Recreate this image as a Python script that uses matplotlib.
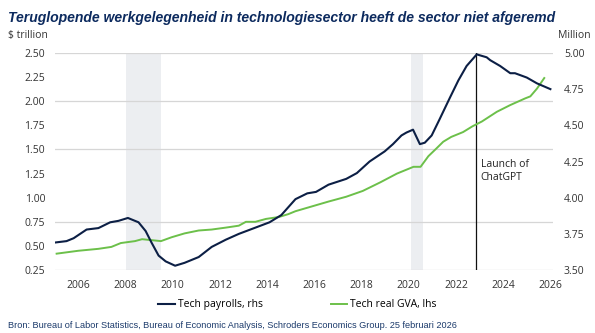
import matplotlib
matplotlib.use("Agg")
import matplotlib.pyplot as plt

# Tech payrolls (million, right axis)
pay_years = [2005.0, 2005.5, 2005.8, 2006.35, 2006.85, 2007.35, 2007.7, 2008.1, 2008.55,
             2008.85, 2009.1, 2009.4, 2009.7, 2010.1, 2010.5, 2011.1, 2011.65, 2012.25,
             2012.8, 2013.45, 2014.1, 2014.6, 2015.2, 2015.7, 2016.07, 2016.6, 2017.35,
             2017.8, 2018.34, 2018.98, 2019.33, 2019.69, 2019.9, 2020.18, 2020.47, 2020.68,
             2020.97, 2021.3, 2021.74, 2022.1, 2022.45, 2022.88, 2023.3, 2023.45, 2023.87,
             2024.3, 2024.5, 2025.0, 2025.43, 2026.0]
payrolls = [3.69, 3.70, 3.72, 3.78, 3.79, 3.83, 3.84, 3.86, 3.83,
            3.77, 3.69, 3.60, 3.56, 3.53, 3.55, 3.59, 3.66, 3.71,
            3.75, 3.79, 3.83, 3.88, 3.99, 4.03, 4.04, 4.09, 4.13,
            4.17, 4.25, 4.32, 4.37, 4.43, 4.45, 4.47, 4.37, 4.38,
            4.43, 4.54, 4.69, 4.81, 4.91, 4.99, 4.97, 4.95, 4.91,
            4.86, 4.86, 4.83, 4.79, 4.75]

# Tech real GVA ($ trillion, left axis)
gva_years = [2005.08, 2006.0, 2006.85, 2007.4, 2007.8, 2008.4, 2008.7, 2009.1, 2009.5,
             2009.95, 2010.5, 2011.1, 2011.65, 2012.25, 2012.8, 2013.1, 2013.5, 2013.95,
             2014.5, 2014.9, 2015.2, 2015.9, 2016.6, 2017.35, 2018.05, 2018.8, 2019.5,
             2020.2, 2020.5, 2020.83, 2021.17, 2021.46, 2021.8, 2022.3, 2022.7, 2023.1,
             2023.73, 2024.3, 2024.94, 2025.15, 2025.43, 2025.74]
gva = [0.42, 0.45, 0.47, 0.49, 0.53, 0.55, 0.57, 0.56, 0.55,
       0.59, 0.63, 0.66, 0.67, 0.69, 0.71, 0.75, 0.75, 0.78,
       0.80, 0.83, 0.86, 0.91, 0.96, 1.01, 1.07, 1.16, 1.25,
       1.32, 1.32, 1.43, 1.51, 1.58, 1.63, 1.68, 1.74, 1.79,
       1.89, 1.96, 2.03, 2.05, 2.13, 2.24]

recessions = [(2008.0, 2009.5), (2020.1, 2020.6)]
chatgpt_launch = 2022.85
left_grid = [0.25, 0.75, 1.5, 2.0, 2.5]

navy = "#0c1f45"
green = "#6cc04a"
tick_col = "#333333"

plt.rcParams["font.family"] = ["Open Sans", "DejaVu Sans"]

fig = plt.figure(figsize=(5.95, 3.33), dpi=100)
ax = fig.add_axes([0.092, 0.189, 0.837, 0.652])
ax2 = ax.twinx()

for a, b in recessions:
    ax.axvspan(a, b, color="#eceef1", lw=0, zorder=0)
for g in left_grid:
    ax.axhline(g, color="#d6d6d6", lw=0.9, zorder=1)
ax.axvline(chatgpt_launch, color="#111111", lw=0.9, zorder=2)
ax.text(chatgpt_launch + 0.2, 1.40, "Launch of\nChatGPT", fontsize=7.5, color="#222222",
        va="top", ha="left", linespacing=1.3)

ax.plot(gva_years, gva, color=green, lw=1.4, zorder=3)
ax2.plot(pay_years, payrolls, color=navy, lw=1.5, zorder=3)

ax.set_xlim(2005, 2026.1)
ax.set_ylim(0.25, 2.5)
ax2.set_ylim(3.5, 5.0)
ax.set_yticks([0.25 * i for i in range(1, 11)])
ax.set_yticklabels([f"{0.25 * i:.2f}" for i in range(1, 11)])
ax2.set_yticks([3.5 + 0.25 * i for i in range(7)])
ax2.set_yticklabels([f"{3.5 + 0.25 * i:.2f}" for i in range(7)])
ax.set_xticks(range(2006, 2027, 2))

for a in (ax, ax2):
    for s in a.spines.values():
        s.set_visible(False)
    a.tick_params(length=0, labelsize=7.5, colors=tick_col)
ax.tick_params(axis="y", pad=7)
ax2.tick_params(axis="y", pad=8)
ax.tick_params(axis="x", pad=7)
ax2.set_zorder(ax.get_zorder() + 1)
ax2.patch.set_visible(False)

fig.text(0.013, 0.945, "Teruglopende werkgelegenheid in technologiesector heeft de sector niet afgeremd",
         fontsize=10.1, fontweight="bold", style="italic", color="#0c2a5e",
         family="Liberation Sans", va="center")
fig.text(0.013, 0.893, "$ trillion", fontsize=7.5, color=tick_col, va="center")
fig.text(0.992, 0.893, "Million", fontsize=7.5, color=tick_col, va="center", ha="right")

h1, = ax.plot([], [], color=navy, lw=1.5)
h2, = ax.plot([], [], color=green, lw=1.4)
fig.legend([h1, h2], ["Tech payrolls, rhs", "Tech real GVA, lhs"], loc="center",
           bbox_to_anchor=(0.5, 0.085), ncol=2, frameon=False, fontsize=7.5,
           handlelength=1.6, handletextpad=0.3, columnspacing=6.5)

fig.text(0.013, 0.022, "Bron: Bureau of Labor Statistics, Bureau of Economic Analysis, Schroders Economics Group. 25 februari 2026",
         fontsize=6.6, color="#1b3a6b", family="Liberation Sans", va="center")

fig.savefig("out.png", dpi=100)
